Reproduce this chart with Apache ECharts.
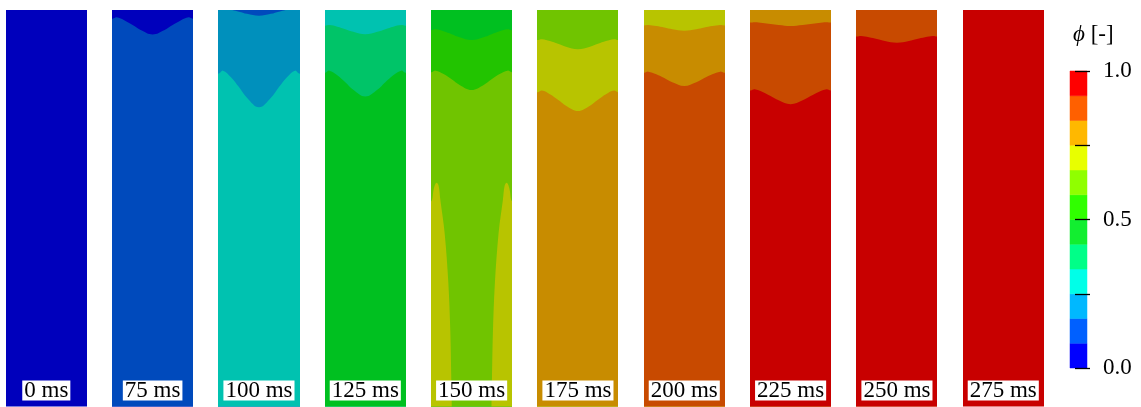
<!DOCTYPE html>
<html>
<head>
<meta charset="utf-8">
<script src="https://cdn.jsdelivr.net/npm/echarts@6/dist/echarts.min.js"></script>
<style>
  html, body { margin: 0; padding: 0; background: #ffffff; }
  #chart { width: 1141px; height: 407px; }
</style>
</head>
<body>
<div id="chart"></div>
<script>
// Snapshot times of the filling sequence
const times = ['0 ms', '75 ms', '100 ms', '125 ms', '150 ms', '175 ms', '200 ms', '225 ms', '250 ms', '275 ms'];

// Horizontal stations across the column width (mm, column is 20 mm wide)
const xStations = [0, 1, 3, 5, 7, 10, 13, 15, 17, 19, 20];

// Iso-phi contour depths (mm below the top of the column) at each station
const iso75   = [2.17, 1.83, 2.60, 3.77, 5.01, 6.13, 5.01, 3.77, 2.60, 1.83, 2.17];
const iso100a = [-0.25, -0.40, -0.07, 0.42, 0.95, 1.43, 0.95, 0.42, -0.07, -0.40, -0.25];
const iso100b = [15.91, 15.18, 16.83, 19.30, 21.95, 24.33, 21.95, 19.30, 16.83, 15.18, 15.91];
const iso125a = [3.94, 3.75, 4.17, 4.80, 5.47, 6.08, 5.47, 4.80, 4.17, 3.75, 3.94];
const iso125b = [15.70, 15.18, 16.35, 18.11, 19.99, 21.68, 19.99, 18.11, 16.35, 15.18, 15.70];
const iso150a = [5.04, 4.83, 5.31, 6.04, 6.81, 7.51, 6.81, 6.04, 5.31, 4.83, 5.04];
const iso150b = [15.57, 15.18, 16.05, 17.35, 18.75, 20.01, 18.75, 17.35, 16.05, 15.18, 15.57];
const iso175a = [7.53, 7.33, 7.78, 8.46, 9.18, 9.83, 9.18, 8.46, 7.78, 7.33, 7.53];
const iso175b = [20.59, 20.18, 21.09, 22.47, 23.94, 25.26, 23.94, 22.47, 21.09, 20.18, 20.59];
const iso200a = [3.86, 3.75, 4.01, 4.39, 4.81, 5.18, 4.81, 4.39, 4.01, 3.75, 3.86];
const iso200b = [15.72, 15.43, 16.07, 17.04, 18.08, 19.01, 18.08, 17.04, 16.07, 15.43, 15.72];
const iso225a = [3.15, 3.08, 3.25, 3.50, 3.77, 4.01, 3.77, 3.50, 3.25, 3.08, 3.15];
const iso225b = [20.13, 19.83, 20.51, 21.52, 22.61, 23.58, 22.61, 21.52, 20.51, 19.83, 20.13];
const iso250  = [6.63, 6.50, 6.80, 7.26, 7.74, 8.18, 7.74, 7.26, 6.80, 6.50, 6.63];

// Wall pockets of higher phi at 150 ms: outline points [x mm, depth mm]
const pocket150L = [[-0.5, 48.5], [0.13, 47.5], [0.4, 45.5], [0.75, 44.0], [1.25, 43.25], [1.75, 44.0],
  [2.18, 47.5], [3.25, 55.75], [4.18, 68.25], [4.68, 80.75], [4.93, 93.25], [5.1, 103], [5.2, 112], [5.25, 125], [-0.5, 125]];
const pocket150R = [[20.5, 48.5], [19.87, 47.5], [19.6, 45.5], [19.25, 44.0], [18.75, 43.25], [18.25, 44.0],
  [17.82, 47.5], [16.75, 55.75], [15.82, 68.25], [15.32, 80.75], [15.07, 93.25], [14.9, 103], [14.8, 112], [14.75, 125], [20.5, 125]];

// phi band (0..11) of each region from top to bottom, per snapshot
const bandLevels = [[0], [0, 1], [1, 2, 3], [3, 4, 5], [5, 6, 7], [7, 8, 9], [8, 9, 10], [9, 10, 11], [10, 11], [11]];
// Contours separating consecutive regions, per snapshot
const contourSets = [[], [iso75], [iso100a, iso100b], [iso125a, iso125b], [iso150a, iso150b],
  [iso175a, iso175b], [iso200a, iso200b], [iso225a, iso225b], [iso250], []];
// Pockets per snapshot and their phi band
const pocketSets = [[], [], [], [], [pocket150L, pocket150R], [], [], [], [], []];
const pocketLevels = [[], [], [], [], [8, 8], [], [], [], [], []];

// Colour-bar bands (phi edges) and ticks
const phiEdges = [0, 0.0833, 0.1667, 0.25, 0.3333, 0.4167, 0.5, 0.5833, 0.6667, 0.75, 0.8333, 0.9167, 1];
const phiTicks = [0, 0.25, 0.5, 0.75, 1];
const phiTickLabels = ['0.0', '', '0.5', '', '1.0'];

// Palettes: shaded field colours and legend colours for the 12 phi bands
const fieldColors = ['#0000bc', '#004abc', '#0090bc', '#00c2b0', '#00c468', '#00c020',
  '#22c400', '#70c400', '#b8c400', '#c88c00', '#c84a00', '#c80000'];
const legendColors = ['#0000ff', '#0060ff', '#00b8ff', '#00ffe8', '#00ff88', '#12ee30',
  '#30ff00', '#90ff00', '#e8ff00', '#ffb800', '#ff6000', '#ff0000'];

const SERIF = 'Liberation Serif';
const DEPTH_MAX = 99.25;
const panelLeft0 = 6.3, panelStep = 106.33, panelW = 80, panelTop = 10;

const chart = echarts.init(document.getElementById('chart'), null, { renderer: 'canvas' });

const grids = [], xAxes = [], yAxes = [], series = [];

function contourOutline(c) {
  const last = c.length - 1;
  return [[-2, c[0]]].concat(xStations.map((x, j) => [x, c[j]]))
    .concat([[22, c[last]], [22, 110], [-2, 110]]);
}

times.forEach((t, p) => {
  grids.push({ left: panelLeft0 + p * panelStep, top: panelTop, width: panelW, bottom: 0 });
  xAxes.push({
    gridIndex: p, type: 'value', min: 0, max: 20, z: 10,
    axisLine: { show: false }, axisTick: { show: false }, axisLabel: { show: false }, splitLine: { show: false },
    name: t, nameLocation: 'middle', nameGap: -26,
    nameTextStyle: {
      fontFamily: SERIF, fontSize: 23, color: '#000', backgroundColor: '#ffffff',
      padding: [0, 2], lineHeight: 20
    }
  });
  yAxes.push({ gridIndex: p, type: 'value', min: 0, max: DEPTH_MAX, inverse: true, show: false });

  const shapes = [];
  bandLevels[p].forEach((lv, k) => {
    if (k === 0) {
      shapes.push({ level: lv, pts: [[-2, -5], [22, -5], [22, 110], [-2, 110]], smooth: 0 });
    } else {
      shapes.push({ level: lv, pts: contourOutline(contourSets[p][k - 1]), smooth: 0.4 });
    }
  });
  pocketSets[p].forEach((pk, k) => shapes.push({ level: pocketLevels[p][k], pts: pk, smooth: 0.35 }));

  series.push({
    type: 'custom', xAxisIndex: p, yAxisIndex: p, clip: true, silent: true, z: 2,
    data: shapes.map((s, i) => [i]),
    renderItem(params, api) {
      const s = shapes[params.dataIndex];
      return {
        type: 'polygon',
        shape: { points: s.pts.map(q => api.coord(q)), smooth: s.smooth },
        style: { fill: fieldColors[s.level] }
      };
    }
  });
});

// Colour bar
const cb = times.length;
grids.push({ left: 1070, top: 71, width: 17, height: 297 });
xAxes.push({ gridIndex: cb, type: 'value', min: 0, max: 1, show: false });
yAxes.push({
  gridIndex: cb, type: 'value', min: 0, max: 1, interval: 0.25, position: 'right', offset: -5, z: 10,
  axisLine: { show: false },
  axisTick: { show: true, length: 15, lineStyle: { color: '#000', width: 1.3 } },
  splitLine: { show: false },
  axisLabel: {
    margin: 21, fontFamily: SERIF, fontSize: 23, color: '#000',
    formatter: v => { const i = phiTicks.indexOf(v); return i >= 0 ? phiTickLabels[i] : ''; }
  }
});
series.push({
  type: 'custom', xAxisIndex: cb, yAxisIndex: cb, silent: true, z: 2,
  data: legendColors.map((c, i) => [phiEdges[i], phiEdges[i + 1], i]),
  renderItem(params, api) {
    const a = api.coord([0, api.value(1)]);
    const b = api.coord([1, api.value(0)]);
    return {
      type: 'rect',
      shape: { x: a[0], y: a[1], width: b[0] - a[0], height: b[1] - a[1] },
      style: { fill: legendColors[api.value(2)], stroke: legendColors[api.value(2)], lineWidth: 0.5 }
    };
  }
});

chart.setOption({
  backgroundColor: '#ffffff',
  animation: false,
  title: {
    text: '{p|ϕ} [-]', left: 1068, top: 18,
    textStyle: {
      fontFamily: SERIF, fontSize: 23, fontWeight: 'normal', color: '#000',
      rich: { p: { fontFamily: SERIF, fontSize: 23, fontStyle: 'italic', color: '#000' } }
    }
  },
  grid: grids,
  xAxis: xAxes,
  yAxis: yAxes,
  series: series
});
</script>
</body>
</html>
